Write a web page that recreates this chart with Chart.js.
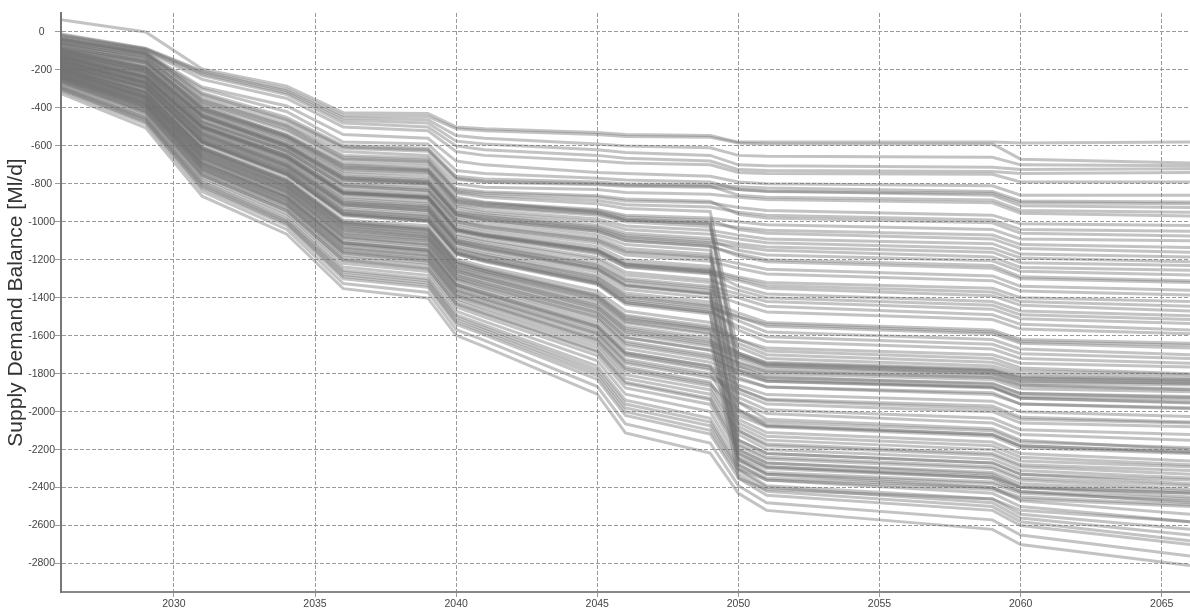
<!DOCTYPE html>
<html>
<head>
<meta charset="utf-8">
<script src="https://cdn.jsdelivr.net/npm/chart.js@4.4.0/dist/chart.umd.min.js"></script>
<style>
  html, body { margin: 0; padding: 0; background: #fff; }
  #wrap { width: 1190px; height: 609px; }
</style>
</head>
<body>
<div id="wrap"><canvas id="myChart"></canvas></div>
<script>
// years where the runs change slope
const years = [2026, 2029, 2031, 2034, 2036, 2039, 2040, 2041, 2045, 2046, 2049, 2050, 2051, 2059, 2060, 2066];
const yTicks = [0, -200, -400, -600, -800, -1000, -1200, -1400, -1600, -1800, -2000, -2200, -2400, -2600, -2800];
const xTicks = [2030, 2035, 2040, 2045, 2050, 2055, 2060, 2065];

// supply demand balance runs (Ml/d)
const run01 = [65, 0, -195, -285, -425, -430, -500, -510, -530, -540, -545, -580, -580, -580, -585, -580];
const run02 = [-10, -85, -205, -300, -440, -445, -510, -520, -540, -550, -555, -585, -590, -590, -670, -690];
const run03 = [-25, -95, -230, -330, -480, -500, -600, -620, -650, -665, -680, -725, -730, -735, -745, -740];
const run04 = [-30, -100, -250, -350, -500, -520, -630, -650, -680, -690, -700, -740, -745, -750, -790, -790];
const run05 = [-35, -110, -290, -390, -540, -560, -680, -700, -740, -745, -760, -790, -800, -810, -860, -860];
const run06 = [-45, -120, -300, -420, -580, -590, -730, -745, -770, -780, -790, -830, -840, -850, -900, -905];
const run07 = [-40, -112, -335, -468, -612, -628, -776, -792, -805, -812, -818, -830, -838, -860, -915, -925];
const run08 = [-50, -118, -350, -485, -630, -650, -800, -818, -830, -845, -855, -870, -882, -900, -955, -970];
const run09 = [-55, -135, -365, -500, -660, -675, -835, -850, -870, -890, -900, -925, -940, -965, -1010, -1020];
const run10 = [-70, -140, -380, -520, -675, -690, -850, -870, -905, -930, -945, -1700, -1760, -1800, -1850, -1860];
const run11 = [-72, -160, -390, -545, -700, -720, -880, -900, -935, -965, -980, -1000, -1015, -1040, -1090, -1100];
const run12 = [-85, -165, -412, -560, -725, -740, -905, -925, -965, -1000, -1025, -1820, -1870, -1910, -1960, -1980];
const run13 = [-92, -182, -428, -578, -745, -768, -925, -952, -1000, -1040, -1065, -1090, -1110, -1140, -1190, -1210];
const run14 = [-100, -190, -440, -596, -768, -790, -955, -975, -1035, -1080, -1110, -1130, -1150, -1185, -1240, -1255];
const run15 = [-105, -206, -455, -615, -790, -812, -975, -1000, -1068, -1120, -1150, -1950, -2010, -2060, -2120, -2150];
const run16 = [-118, -212, -475, -630, -812, -836, -1000, -1030, -1100, -1160, -1190, -1220, -1250, -1285, -1340, -1360];
const run17 = [-125, -228, -490, -650, -835, -860, -1022, -1055, -1130, -1200, -1235, -2080, -2150, -2200, -2260, -2290];
const run18 = [-130, -240, -505, -668, -855, -880, -1050, -1080, -1168, -1240, -1275, -1310, -1350, -1390, -1440, -1470];
const run19 = [-142, -250, -520, -684, -878, -905, -1075, -1105, -1200, -1280, -1320, -2200, -2270, -2320, -2380, -2420];
const run20 = [-150, -265, -535, -700, -900, -925, -1100, -1130, -1235, -1315, -1360, -1400, -1445, -1490, -1540, -1570];
const run21 = [-158, -272, -555, -720, -920, -950, -1120, -1158, -1265, -1355, -1400, -2250, -2320, -2370, -2420, -2460];
const run22 = [-168, -285, -570, -735, -945, -975, -1150, -1180, -1300, -1395, -1445, -1520, -1580, -1620, -1670, -1700];
const run23 = [-175, -300, -585, -755, -968, -1000, -1170, -1210, -1330, -1435, -1485, -2300, -2360, -2410, -2460, -2500];
const run24 = [-183, -310, -600, -772, -990, -1020, -1195, -1235, -1365, -1470, -1530, -1620, -1680, -1720, -1770, -1800];
const run25 = [-192, -320, -618, -790, -1010, -1045, -1220, -1260, -1398, -1515, -1570, -1660, -1720, -1760, -1800, -1820];
const run26 = [-200, -335, -630, -808, -1030, -1068, -1245, -1285, -1430, -1550, -1612, -2350, -2410, -2460, -2520, -2580];
const run27 = [-208, -345, -650, -825, -1055, -1090, -1270, -1310, -1465, -1590, -1655, -1720, -1770, -1800, -1840, -1850];
const run28 = [-218, -355, -665, -842, -1078, -1115, -1295, -1335, -1495, -1630, -1700, -1760, -1800, -1830, -1880, -1895];
const run29 = [-225, -368, -680, -860, -1100, -1138, -1318, -1362, -1530, -1668, -1740, -1800, -1840, -1870, -1930, -1950];
const run30 = [-235, -380, -698, -878, -1120, -1160, -1342, -1390, -1565, -1705, -1780, -1950, -2040, -2090, -2150, -2200];
const run31 = [-242, -390, -712, -895, -1145, -1185, -1368, -1415, -1595, -1745, -1822, -1900, -1960, -2000, -2060, -2080];
const run32 = [-250, -402, -728, -912, -1165, -1208, -1392, -1440, -1630, -1785, -1865, -2100, -2180, -2230, -2290, -2330];
const run33 = [-258, -415, -745, -930, -1188, -1230, -1415, -1468, -1662, -1825, -1908, -2150, -2220, -2270, -2330, -2380];
const run34 = [-270, -430, -765, -955, -1218, -1262, -1448, -1502, -1705, -1875, -1962, -2220, -2290, -2350, -2420, -2480];
const run35 = [-285, -450, -790, -985, -1255, -1300, -1490, -1545, -1760, -1940, -2035, -2280, -2360, -2430, -2500, -2580];
const run36 = [-305, -475, -825, -1020, -1300, -1345, -1540, -1595, -1830, -2020, -2118, -2350, -2440, -2520, -2600, -2700];
const run37 = [-325, -505, -865, -1065, -1352, -1402, -1598, -1658, -1908, -2112, -2218, -2430, -2520, -2620, -2700, -2810];
const run38 = [-60, -150, -400, -540, -690, -705, -870, -895, -950, -990, -1010, -1030, -1045, -1070, -1120, -1135];
const run39 = [-140, -245, -500, -650, -840, -865, -1040, -1070, -1150, -1215, -1250, -2020, -2080, -2130, -2190, -2220];
const run40 = [-180, -290, -575, -745, -955, -985, -1160, -1195, -1310, -1405, -1455, -1500, -1540, -1580, -1630, -1650];
const run41 = [-195, -328, -620, -798, -1020, -1055, -1232, -1270, -1410, -1525, -1585, -2240, -2300, -2350, -2400, -2430];
const run42 = [-215, -350, -658, -835, -1068, -1102, -1282, -1325, -1480, -1610, -1678, -1740, -1785, -1815, -1860, -1880];
const run43 = [-110, -200, -450, -605, -780, -800, -965, -990, -1050, -1100, -1130, -1170, -1200, -1230, -1290, -1310];
const run44 = [-230, -372, -690, -868, -1110, -1150, -1330, -1375, -1548, -1690, -1760, -1830, -1870, -1900, -1960, -1985];
const run45 = [-160, -270, -545, -710, -910, -940, -1112, -1145, -1250, -1338, -1382, -2150, -2220, -2270, -2330, -2360];
const run46 = [-90, -175, -420, -570, -735, -752, -915, -940, -985, -1022, -1045, -1070, -1090, -1115, -1170, -1185];
const run47 = [-125, -232, -495, -655, -845, -870, -1035, -1065, -1145, -1222, -1255, -1290, -1320, -1350, -1400, -1420];
const run48 = [-20, -92, -220, -320, -465, -480, -575, -590, -620, -635, -650, -700, -705, -712, -725, -720];
const run49 = [-38, -105, -320, -450, -598, -612, -760, -775, -790, -800, -805, -815, -822, -840, -890, -895];
const run50 = [-62, -128, -372, -512, -668, -682, -842, -860, -888, -910, -922, -950, -965, -990, -1040, -1050];
const run51 = [-80, -155, -405, -552, -712, -730, -892, -912, -950, -985, -1002, -1780, -1830, -1870, -1920, -1935];
const run52 = [-96, -186, -435, -590, -758, -780, -940, -962, -1018, -1060, -1088, -1115, -1132, -1160, -1215, -1230];
const run53 = [-112, -210, -468, -622, -802, -825, -988, -1015, -1085, -1140, -1172, -1880, -1940, -1985, -2040, -2060];
const run54 = [-135, -236, -498, -660, -848, -872, -1042, -1072, -1155, -1225, -1262, -1300, -1335, -1370, -1420, -1445];
const run55 = [-146, -258, -528, -692, -888, -915, -1088, -1118, -1218, -1298, -1340, -1380, -1420, -1460, -1510, -1535];
const run56 = [-162, -278, -560, -728, -932, -962, -1135, -1170, -1282, -1375, -1422, -1480, -1530, -1570, -1620, -1640];
const run57 = [-170, -292, -578, -745, -955, -988, -1160, -1195, -1315, -1415, -1465, -1570, -1630, -1670, -1720, -1745];
const run58 = [-186, -315, -608, -780, -1000, -1032, -1208, -1248, -1382, -1492, -1550, -1640, -1700, -1740, -1785, -1805];
const run59 = [-196, -325, -625, -800, -1022, -1058, -1235, -1272, -1415, -1532, -1592, -1690, -1745, -1780, -1820, -1835];
const run60 = [-204, -340, -640, -816, -1042, -1080, -1258, -1298, -1448, -1570, -1635, -1700, -1750, -1785, -1825, -1840];
const run61 = [-212, -350, -656, -832, -1065, -1100, -1282, -1322, -1478, -1608, -1675, -1745, -1790, -1820, -1865, -1885];
const run62 = [-222, -362, -672, -850, -1088, -1126, -1305, -1350, -1512, -1650, -1720, -1780, -1822, -1850, -1905, -1925];
const run63 = [-228, -375, -688, -868, -1110, -1148, -1330, -1375, -1548, -1688, -1760, -1990, -2070, -2120, -2180, -2215];
const run64 = [-238, -385, -705, -886, -1132, -1172, -1355, -1402, -1580, -1725, -1800, -2040, -2110, -2160, -2220, -2260];
const run65 = [-246, -396, -720, -905, -1155, -1196, -1380, -1428, -1612, -1765, -1845, -2060, -2130, -2180, -2240, -2280];
const run66 = [-254, -408, -736, -920, -1176, -1218, -1404, -1455, -1645, -1805, -1885, -2120, -2200, -2250, -2310, -2350];
const run67 = [-262, -420, -752, -940, -1200, -1245, -1430, -1482, -1680, -1845, -1930, -2180, -2250, -2300, -2360, -2410];
const run68 = [-132, -238, -505, -664, -852, -878, -1048, -1078, -1162, -1235, -1270, -2100, -2170, -2220, -2280, -2310];
const run69 = [-178, -295, -580, -752, -962, -995, -1168, -1205, -1325, -1425, -1478, -2260, -2330, -2380, -2430, -2470];
const run70 = [-148, -262, -532, -698, -895, -922, -1095, -1125, -1228, -1308, -1350, -2170, -2240, -2290, -2350, -2390];
const run71 = [-120, -220, -482, -640, -822, -846, -1010, -1040, -1112, -1175, -1208, -1245, -1275, -1310, -1365, -1385];
const run72 = [-100, -195, -445, -600, -772, -795, -960, -982, -1040, -1088, -1118, -1925, -1990, -2035, -2095, -2120];
const run73 = [-15, -88, -212, -310, -452, -462, -545, -560, -590, -600, -610, -650, -655, -660, -700, -705];
const run74 = [-42, -115, -328, -462, -606, -620, -770, -786, -800, -808, -812, -860, -870, -885, -940, -950];
const run75 = [-58, -132, -358, -495, -650, -665, -825, -842, -862, -880, -892, -960, -980, -1005, -1060, -1075];
const run76 = [-78, -150, -398, -548, -705, -724, -886, -906, -942, -975, -992, -1040, -1060, -1090, -1140, -1160];
const run77 = [-108, -198, -448, -605, -778, -800, -962, -988, -1050, -1098, -1128, -1180, -1210, -1245, -1300, -1320];
const run78 = [-128, -235, -500, -660, -848, -872, -1040, -1070, -1150, -1228, -1265, -1340, -1380, -1420, -1470, -1495];
const run79 = [-138, -246, -514, -676, -868, -895, -1066, -1096, -1188, -1265, -1306, -1360, -1400, -1440, -1490, -1515];
const run80 = [-152, -266, -540, -705, -905, -932, -1105, -1138, -1245, -1330, -1375, -1430, -1475, -1515, -1565, -1590];
const run81 = [-165, -282, -566, -732, -940, -970, -1142, -1178, -1292, -1388, -1438, -1500, -1550, -1590, -1640, -1665];
const run82 = [-172, -296, -582, -750, -962, -994, -1165, -1202, -1322, -1425, -1475, -1550, -1605, -1645, -1695, -1720];
const run83 = [-188, -316, -610, -784, -1004, -1038, -1212, -1252, -1388, -1500, -1560, -1620, -1665, -1700, -1745, -1765];
const run84 = [-205, -342, -644, -820, -1048, -1084, -1262, -1302, -1455, -1580, -1645, -1710, -1755, -1790, -1835, -1850];
const run85 = [-220, -358, -668, -846, -1082, -1120, -1300, -1342, -1502, -1640, -1710, -1790, -1840, -1875, -1930, -1955];
const run86 = [-232, -376, -694, -872, -1116, -1155, -1336, -1382, -1556, -1698, -1772, -1860, -1910, -1945, -2000, -2025];
const run87 = [-240, -388, -708, -890, -1138, -1178, -1362, -1408, -1588, -1736, -1812, -1880, -1935, -1970, -2030, -2055];
const run88 = [-248, -400, -724, -908, -1160, -1202, -1386, -1434, -1622, -1775, -1855, -2000, -2075, -2120, -2180, -2210];
const run89 = [-265, -422, -756, -942, -1204, -1248, -1434, -1486, -1686, -1852, -1938, -2200, -2270, -2330, -2400, -2450];
const run90 = [-278, -440, -778, -970, -1238, -1282, -1470, -1524, -1732, -1908, -2000, -2250, -2330, -2400, -2470, -2540];
const run91 = [-116, -215, -472, -628, -808, -832, -995, -1025, -1095, -1155, -1185, -1990, -2055, -2100, -2160, -2190];
const run92 = [-154, -268, -548, -712, -912, -940, -1110, -1142, -1248, -1335, -1378, -2220, -2290, -2340, -2395, -2430];
const run93 = [-88, -162, -410, -556, -718, -735, -898, -918, -958, -992, -1012, -1760, -1815, -1855, -1905, -1920];
const run94 = [-190, -318, -615, -788, -1008, -1042, -1218, -1258, -1395, -1510, -1568, -2280, -2350, -2400, -2450, -2490];
const run95 = [-98, -188, -438, -594, -764, -786, -948, -970, -1028, -1072, -1100, -1150, -1175, -1205, -1260, -1280];
const run96 = [-202, -338, -636, -812, -1036, -1072, -1250, -1290, -1440, -1562, -1625, -1690, -1740, -1775, -1815, -1830];
const run97 = [-295, -462, -808, -1002, -1278, -1322, -1515, -1570, -1795, -1980, -2075, -2310, -2400, -2480, -2560, -2650];
const run98 = [-312, -485, -840, -1040, -1325, -1372, -1568, -1625, -1868, -2065, -2165, -2390, -2480, -2570, -2650, -2760];
const run99 = [-290, -455, -798, -995, -1265, -1310, -1502, -1558, -1778, -1960, -2055, -2300, -2390, -2460, -2540, -2620];
const run100 = [-300, -468, -815, -1010, -1288, -1334, -1528, -1582, -1812, -2000, -2098, -2330, -2420, -2500, -2580, -2680];

const runs = [run01, run02, run03, run04, run05, run06, run07, run08, run09, run10,
  run11, run12, run13, run14, run15, run16, run17, run18, run19, run20,
  run21, run22, run23, run24, run25, run26, run27, run28, run29, run30,
  run31, run32, run33, run34, run35, run36, run37, run38, run39, run40,
  run41, run42, run43, run44, run45, run46, run47, run48, run49, run50,
  run51, run52, run53, run54, run55, run56, run57, run58, run59, run60,
  run61, run62, run63, run64, run65, run66, run67, run68, run69, run70,
  run71, run72, run73, run74, run75, run76, run77, run78, run79, run80,
  run81, run82, run83, run84, run85, run86, run87, run88, run89, run90,
  run91, run92, run93, run94, run95, run96, run97, run98, run99, run100];

const fontFamily = "'Liberation Sans', Arial, sans-serif";

let ctx = document.getElementById("myChart").getContext("2d");
let myChart = new Chart(ctx, {
  type: "line",
  data: {
    datasets: runs.map(function(run) {
      return {
        data: years.map((x, i) => ({ x: x, y: run[i] })),
        borderColor: "rgba(112, 112, 112, 0.42)",
        borderWidth: 3,
        pointRadius: 0,
        tension: 0,
        fill: false
      };
    })
  },
  options: {
    responsive: true,
    maintainAspectRatio: false,
    animation: false,
    events: [],
    layout: { padding: { top: 13, right: 0, bottom: 0, left: 0 } },
    plugins: {
      legend: { display: false },
      tooltip: { enabled: false }
    },
    scales: {
      x: {
        type: "linear",
        min: 2026,
        max: 2066,
        afterBuildTicks: axis => { axis.ticks = xTicks.map(v => ({ value: v })); },
        afterFit: axis => { axis.height = 17; },
        ticks: {
          color: "#444",
          font: { size: 10.5, family: fontFamily },
          padding: 1,
          maxRotation: 0,
          autoSkip: false,
          callback: v => String(v)
        },
        grid: { color: "#9a9a9a", lineWidth: 1, tickLength: 5 },
        border: { display: true, color: "#888", width: 2, dash: [4, 2] }
      },
      y: {
        min: -2950,
        max: 100,
        afterBuildTicks: axis => { axis.ticks = yTicks.map(v => ({ value: v })); },
        afterFit: axis => { axis.width = 61; },
        ticks: {
          color: "#444",
          font: { size: 10.5, family: fontFamily },
          padding: 0,
          crossAlign: "center",
          autoSkip: false,
          callback: v => String(v)
        },
        grid: { color: "#9a9a9a", lineWidth: 1, tickLength: 6 },
        border: { display: true, color: "#777", width: 2, dash: [4, 2] },
        title: {
          display: true,
          text: "Supply Demand Balance [Ml/d]",
          color: "#333",
          font: { size: 21, family: fontFamily },
          padding: { top: 4, bottom: 0 }
        }
      }
    }
  }
});
</script>
</body>
</html>
